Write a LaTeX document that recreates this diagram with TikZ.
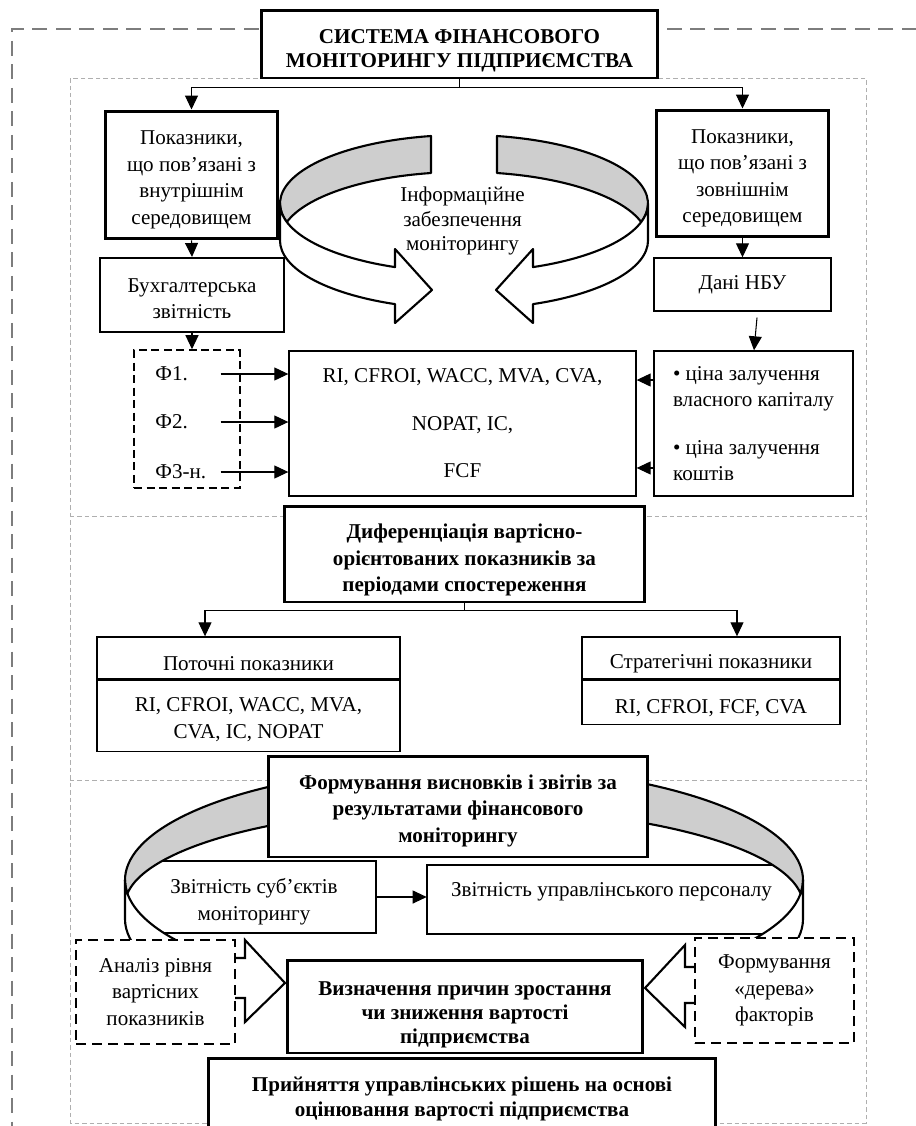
\documentclass[tikz,border=0pt]{standalone}
\usepackage{fontspec}
\setmainfont{Liberation Serif}
\usetikzlibrary{arrows.meta, positioning, calc}

\definecolor{framegray}{RGB}{125,125,125}
\definecolor{linegray}{RGB}{175,175,175}
\definecolor{bandgray}{RGB}{206,206,206}

% invisible struts to push text down / up inside fixed boxes
\newcommand\topgap[1]{\rule{0pt}{#1}}
\newcommand\botgap[1]{\rule[-#1]{0pt}{#1}}

\tikzset{
  txt/.style={font=\fontsize{12}{15}\selectfont, align=center, inner sep=0pt},
  bold/.style={font=\fontsize{12}{15}\selectfont\bfseries},
  heavybox/.style={txt, draw, line width=1.7pt, fill=white},
  midbox/.style={txt, draw, line width=1.2pt, fill=white},
  thinbox/.style={txt, draw, line width=0.8pt, fill=white},
  dashbox/.style={txt, draw, line width=0.9pt, dash pattern=on 0.16cm off 0.09cm},
  heavydash/.style={txt, draw, line width=1.3pt, dash pattern=on 0.2cm off 0.12cm, fill=white},
  link/.style={line width=0.6pt},
  arr/.style={link, -{Triangle[length=0.28cm, width=0.26cm]}},
  band/.style={line width=1.2pt, line join=round},
  blockarrow/.style={line width=1.2pt, line join=miter, fill=white},
  pics/ringtop/.style={code={
    \filldraw[band, fill=bandgray] (259.67:184 and 68.6)
      arc[start angle=259.67, end angle=164.35, x radius=184, y radius=68.6]
      arc[start angle=195.65, end angle=259.67, x radius=184, y radius=68.6] -- cycle;
    \filldraw[band, fill=white] (180:184 and 68.6)
      arc[start angle=180, end angle=112.02, x radius=184, y radius=68.6]
      -- (-69,45.5) -- (-32,86.5) -- (-69,119.5) -- (-69,100.6)
      arc[start angle=112.02, end angle=180, x radius=184, y radius=68.6] -- cycle;
  }},
  pics/ringbottom/.style={code={
    \filldraw[band, fill=bandgray] (241.07:339 and 114)
      arc[start angle=241.07, end angle=173.17, x radius=339, y radius=114]
      arc[start angle=186.83, end angle=241.07, x radius=339, y radius=97] -- cycle;
    \filldraw[band, fill=white] (180:339 and 114)
      arc[start angle=180, end angle=141.15, x radius=339, y radius=114]
      -- ++(0,39) arc[start angle=141.15, end angle=180, x radius=339, y radius=114] -- cycle;
  }},
}

\begin{document}
\begin{tikzpicture}[x=0.02cm, y=-0.02cm]
  \useasboundingbox (0,0) rectangle (916,1126);
  \clip (0,0) rectangle (916,1126);
  \fill[white] (0,0) rectangle (916,1126);

  % frames
  \draw[framegray, line width=1.6pt, dash pattern=on 0.3cm off 0.17cm] (940,29) -- (12,29) -- (12,1150);
  \draw[linegray, line width=0.5pt, dash pattern=on 0.09cm off 0.06cm] (70,78) rectangle (866,1123);
  \draw[linegray, line width=0.5pt, dash pattern=on 0.09cm off 0.06cm] (70,516) -- (866,516) (70,780) -- (866,780);

  % top part
  \node[heavybox, font=\fontsize{12}{14.2}\selectfont\bfseries, minimum width=7.94cm, minimum height=1.36cm] (title) at (459.5,44) {\topgap{0.55cm}СИСТЕМА ФІНАНСОВОГО\\МОНІТОРИНГУ ПІДПРИЄМСТВА};
  \node[heavybox, minimum width=3.46cm, minimum height=2.56cm] (inner) at (191.5,175) {\topgap{0.47cm}Показники,\\що пов’язані з\\внутрішнім\\середовищем};
  \node[heavybox, minimum width=3.46cm, minimum height=2.54cm] (outer) at (742.5,173.5) {\topgap{0.47cm}Показники,\\що пов’язані з\\зовнішнім\\середовищем};
  \node[midbox, minimum width=3.68cm, minimum height=1.48cm] (bukh) at (192,295) {\topgap{0.43cm}Бухгалтерська\\звітність};
  \node[thinbox, minimum width=3.54cm, minimum height=1.06cm] (nbu) at (742.5,284.5) {Дані НБУ};

  \pic at (464,203.5) {ringtop};
  \pic[xscale=-1] at (464,203.5) {ringtop};
  \node[txt, font=\fontsize{12}{13.8}\selectfont] (info) at (462.5,221) {Інформаційне\\забезпечення\\моніторингу};

  \node[dashbox, minimum width=2.12cm, minimum height=2.76cm] (fbox) at (187,419) {};
  \node[txt, anchor=west, text width=1.2cm, align=left, inner sep=0.1cm] (f1) at (150,374) {Ф1.};
  \node[txt, anchor=west, text width=1.2cm, align=left, inner sep=0.1cm] (f2) at (150,422) {Ф2.};
  \node[txt, anchor=west, text width=1.2cm, align=left, inner sep=0.1cm] (f3) at (150,472) {Ф3-н.};
  \node[thinbox, font=\fontsize{12}{27}\selectfont, minimum width=6.94cm, minimum height=2.9cm] (core) at (462.5,423.5) {RI, CFROI, WACC, MVA, CVA,\\NOPAT, IC,\\FCF};
  \node[thinbox, align=left, minimum width=3.98cm, minimum height=2.9cm] (rates) at (753.5,423.5) {• ціна залучення\\власного капіталу\\[0.42cm]• ціна залучення\\коштів};

  \draw[link] (title.south) -- ++(0,8) coordinate (fork1);
  \draw[arr] (fork1) -| (inner.north);
  \draw[arr] (fork1) -| (outer.north);
  \draw[arr] (inner.south) -- (bukh.north);
  \draw[arr] (outer.south) -- (nbu.north);
  \draw[arr] (bukh.south) -- (bukh.south |- fbox.north);
  \foreach \f in {f1,f2,f3}
    \draw[arr] (\f.east) -- (\f.east -| core.west);
  \draw[arr] ([yshift=0.87cm]rates.west) -- ([yshift=0.87cm]core.east);
  \draw[arr] ([yshift=-0.89cm]rates.west) -- ([yshift=-0.89cm]core.east);
  \draw[arr] ([xshift=0.29cm,yshift=-0.12cm]nbu.south) -- ([xshift=0.01cm]rates.north);

  % middle part
  \node[heavybox, bold, minimum width=7.22cm, minimum height=1.92cm] (diff) at (464.5,554) {\topgap{0.53cm}Диференціація вартісно-\\орієнтованих показників за\\періодами спостереження};
  \node[thinbox, minimum width=6.06cm, minimum height=0.84cm] (cur) at (248.5,658) {\topgap{0.49cm}Поточні показники};
  \node[thinbox, minimum width=6.06cm, minimum height=1.42cm, below=0pt of cur] (curv) {\topgap{0.43cm}RI, CFROI, WACC, MVA,\\CVA, IC, NOPAT};
  \node[thinbox, minimum width=5.16cm, minimum height=0.84cm] (strat) at (711,658) {\topgap{0.49cm}Стратегічні показники};
  \node[thinbox, minimum width=5.16cm, minimum height=0.88cm, below=0pt of strat] (stratv) {\topgap{0.49cm}RI, CFROI, FCF, CVA};

  \draw[link] (diff.south) -- ++(0,7) coordinate (fork2);
  \draw[arr] (fork2) -| ([xshift=-0.87cm]cur.north);
  \draw[arr] (fork2) -| ([xshift=0.52cm]strat.north);

  % bottom part
  \node[txt, fill=white, minimum width=4.88cm, minimum height=1.44cm] (rep1) at (254,897) {\topgap{0.49cm}Звітність суб’єктів\\моніторингу};
  \draw[line width=1.2pt] (rep1.north west) -- (rep1.north east) -- (rep1.south east) -- (rep1.south west);
  \node[txt, fill=white, minimum width=7.38cm, minimum height=1.38cm] (rep2) at (611.5,899.5) {Звітність управлінського персоналу\botgap{0.4cm}};
  \draw[line width=1.2pt] (rep2.north east) -- (rep2.north west) -- (rep2.south west) -- (rep2.south east);
  \draw[arr] (rep1.east) -- (rep1.east -| rep2.west);

  \pic at (464,880) {ringbottom};
  \pic[xscale=-1] at (464,880) {ringbottom};

  \node[heavybox, bold, minimum width=7.6cm, minimum height=2.02cm] (concl) at (458,806.5) {\topgap{0.47cm}Формування висновків і звітів за\\результатами фінансового\\моніторингу};

  \filldraw[blockarrow] (235,958) -- (245,958) -- (245,940) -- (285,983) -- (245,1022) -- (245,998) -- (235,998);
  \filldraw[blockarrow] (695,967) -- (685,967) -- (685,945) -- (645,988) -- (685,1027) -- (685,1003) -- (695,1003);

  \node[heavydash, minimum width=3.18cm, minimum height=2.08cm] (anal) at (155.5,992) {Аналіз рівня\\вартісних\\показників};
  \node[heavydash, minimum width=3.18cm, minimum height=2.1cm] (tree) at (774.5,990.5) {Формування\\«дерева»\\факторів};
  \node[heavybox, font=\fontsize{12}{13.8}\selectfont\bfseries, minimum width=7.12cm, minimum height=1.86cm] (cause) at (465,1006.5) {\topgap{0.61cm}Визначення причин зростання\\чи зниження вартості\\підприємства};
  \node[heavybox, font=\fontsize{12}{14}\selectfont\bfseries, minimum width=10.16cm, minimum height=1.64cm] (decis) at (462,1099) {Прийняття управлінських рішень на основі\\оцінювання вартості підприємства};
\end{tikzpicture}
\end{document}
